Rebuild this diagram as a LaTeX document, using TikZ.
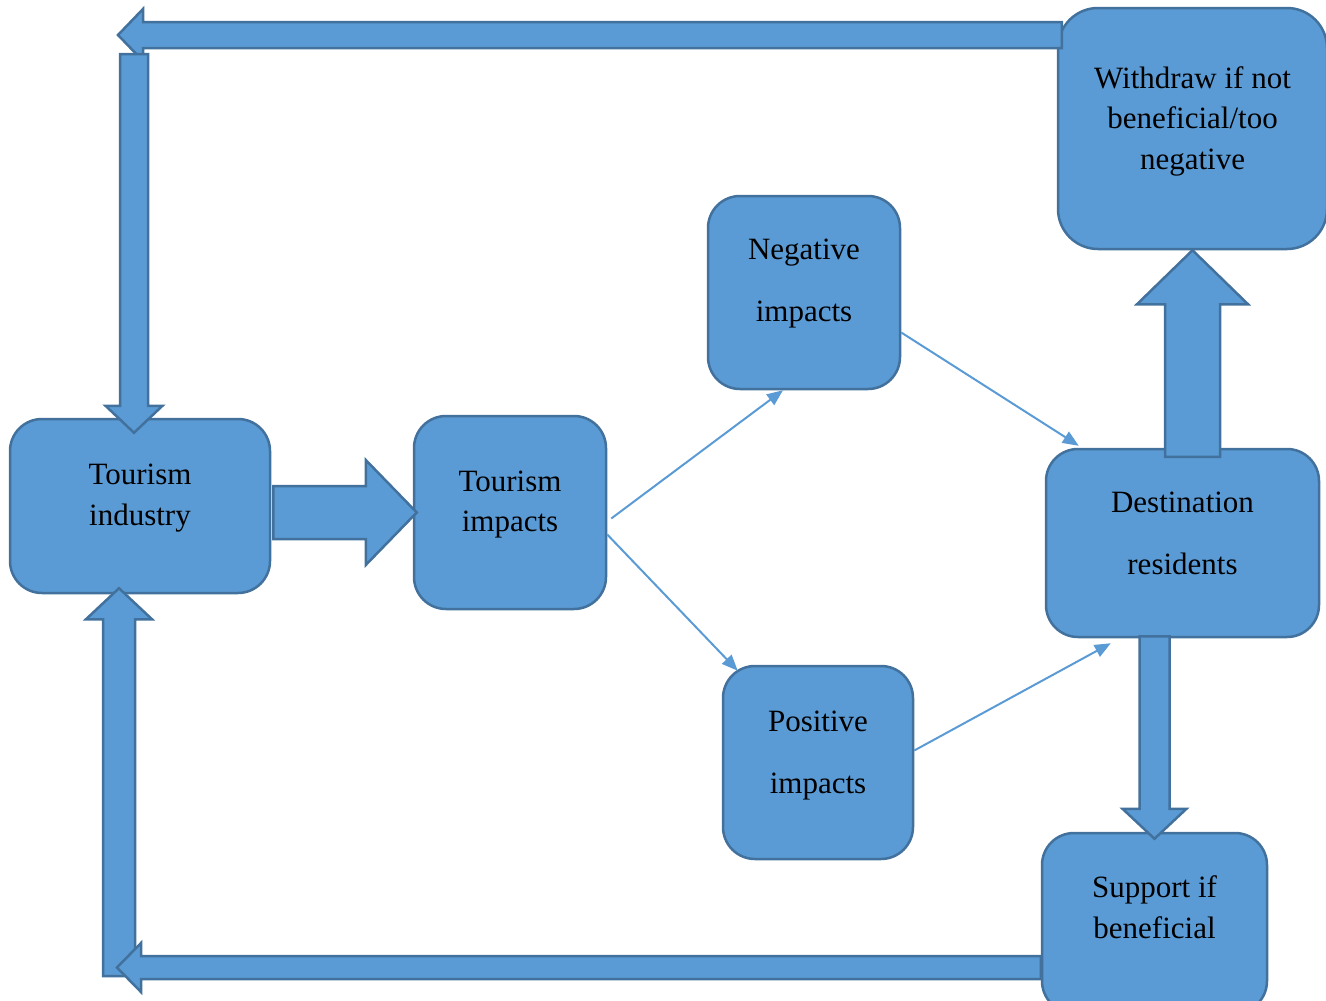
\documentclass[tikz,border=0pt]{standalone}
\usepackage{fontspec}
\setmainfont{Liberation Serif}
\usetikzlibrary{arrows.meta,calc}
\definecolor{boxfill}{HTML}{5B9BD5}
\definecolor{boxline}{HTML}{41719C}
\tikzstyle{box}=[draw=boxline,fill=boxfill,line width=2.5pt,rounded corners=32pt,inner sep=0pt]
\tikzstyle{every label}=[align=center,font=\fontsize{31}{40.5}\selectfont,text=black]
\tikzstyle{wide}=[font=\fontsize{31}{62}\selectfont]
\tikzstyle{link}=[draw=boxfill,line width=2pt,-{Triangle[length=16pt,width=13pt]}]
% block arrow: shaft half width, head half width, head length
\tikzset{blk/.style n args={3}{fill=boxfill,draw=boxline,line width=2.5pt,
  to path={($(\tikztotarget)!#3!(\tikztostart)$) coordinate (hb)
    ($(\tikztostart)!#1!90:(\tikztotarget)$) -- ($(hb)!#1!90:(\tikztotarget)$)
    -- ($(hb)!#2!90:(\tikztotarget)$) -- (\tikztotarget)
    -- ($(hb)!#2!-90:(\tikztotarget)$) -- ($(hb)!#1!-90:(\tikztotarget)$)
    -- ($(\tikztostart)!#1!-90:(\tikztotarget)$) -- cycle}}}

\begin{document}
\begin{tikzpicture}[x=1pt,y=-1pt]
	\useasboundingbox (0,0) rectangle (1326,1001);
	% boxes
	\node[box,minimum width=260pt,minimum height=174pt,label={[yshift=8pt]center:{Tourism\\industry}}] (ti) at (140,506) {};
	\node[box,minimum width=192pt,minimum height=193pt,label={[yshift=8pt]center:{Tourism\\impacts}}] (imp) at (510,512.5) {};
	\node[box,minimum width=192pt,minimum height=193pt,label={[wide,yshift=8.5pt]center:{Negative\\impacts}}] (neg) at (804,292.5) {};
	\node[box,minimum width=190pt,minimum height=193pt,label={[wide,yshift=6.5pt]center:{Positive\\impacts}}] (pos) at (818,762.5) {};
	\node[box,minimum width=273pt,minimum height=188pt,label={[wide,yshift=10pt]center:{Destination\\residents}}] (dest) at (1182.5,543) {};
	\node[box,rounded corners=40pt,minimum width=269pt,minimum height=241pt,label={[yshift=7.5pt]center:{Withdraw if not\\beneficial/too\\negative}}] (wd) at (1192.5,128.5) {};
	\node[box,minimum width=225pt,minimum height=180pt,label={[yshift=16pt]center:{Support if\\beneficial}}] (sup) at (1154.5,923) {};

	% thin links
	\draw[link] ([shift={(4,6)}]imp.east) -- ([xshift=-21pt]neg.south);
	\draw[link] ([yshift=-22pt]imp.east) -- ([shift={(16,6)}]pos.north west);
	\draw[link] ([yshift=-40pt]neg.east) -- ([shift={(34,-2)}]dest.north west);
	\draw[link] ([yshift=12pt]pos.east) -- ([shift={(66,5)}]dest.south west);

	% block arrows
	\coordinate (topTip) at (118,35);
	\coordinate (topDrop) at (134,54);
	\coordinate (botTip) at (117,967.5);
	\coordinate (botRise) at (119,976);
	\draw[blk={13pt}{26pt}{25pt}] ([xshift=5pt]wd.west |- topTip) to (topTip);
	\draw[blk={14pt}{28.5pt}{27pt}] (topDrop) to ([yshift=-15pt]ti.north -| topDrop);
	\draw[blk={26.5pt}{52.5pt}{51pt}] ([xshift=2pt]ti.east |- imp.west) to ([xshift=4pt]imp.west);
	\draw[blk={27.5pt}{55.5pt}{54pt}] ([yshift=-9pt]dest.north -| wd.south) to (wd.south);
	\draw[blk={15pt}{32pt}{30pt}] ([yshift=2pt]dest.south -| sup.north) to ([yshift=-7pt]sup.north);
	\draw[blk={16pt}{33pt}{31pt}] (botRise) to ([yshift=6pt]ti.south -| botRise);
	\draw[blk={11.5pt}{24.5pt}{24pt}] (sup.west |- botTip) to (botTip);
\end{tikzpicture}
\end{document}
